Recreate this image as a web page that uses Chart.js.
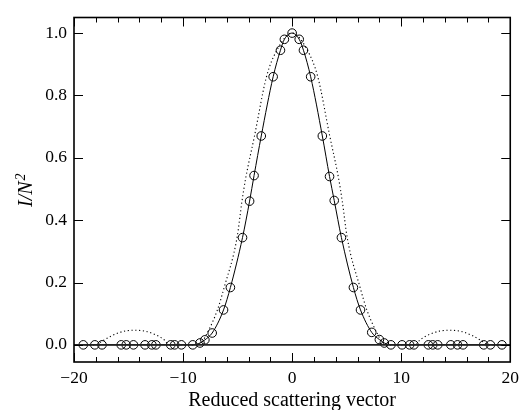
<!DOCTYPE html>
<html>
<head>
<meta charset="utf-8">
<script src="https://cdn.jsdelivr.net/npm/chart.js@4"></script>
<style>
    html, body { margin: 0; padding: 0; background: #fff; }
</style>
</head>
<body>
<canvas id="myChart" width="525" height="410"></canvas>
<script>
// circles (measured points)
const circleX = [-19.15, -18.09, -17.43, -15.67, -15.21, -14.55, -13.49, -12.86, -12.49, -11.13, -10.77, -10.15,
    -9.11, -8.45, -8.0, -7.33, -6.29, -5.66, -4.55, -3.9, -3.49, -2.83, -1.74, -1.07, -0.71, 0,
    0.65, 1.04, 1.7, 2.77, 3.43, 3.86, 4.52, 5.62, 6.27, 7.3, 8.0, 8.45, 9.06, 10.08, 10.77, 11.17,
    12.49, 12.89, 13.35, 14.55, 15.16, 15.67, 17.57, 18.18, 19.24];
const circleY = [0, 0, 0, 0, 0, 0, 0, 0, 0, 0, 0, 0,
    0, 0.006, 0.016, 0.038, 0.112, 0.184, 0.344, 0.461, 0.543, 0.67, 0.86, 0.945, 0.98, 1.0,
    0.98, 0.945, 0.86, 0.67, 0.54, 0.463, 0.344, 0.184, 0.112, 0.04, 0.017, 0.006, 0, 0, 0, 0,
    0, 0, 0, 0, 0, 0, 0, 0, 0];

// dotted curve
const dottedX = [-20, -18.0, -17.5, -16.5, -15.5, -14.5, -13.5, -12.5, -11.7, -11.3, -8.7, -8.3, -7.75, -6.85, -6.24,
    -5.05, -4.6, -4.28, -3.45, -2.35, -1.4, 0, 1.4, 2.35, 3.45, 4.28, 4.6, 5.05, 6.24, 6.85, 7.75, 8.3, 8.7,
    11.3, 11.7, 12.5, 13.5, 14.5, 15.5, 16.5, 17.5, 18.0, 20];
const dottedY = [0, 0, 0.01, 0.03, 0.043, 0.047, 0.044, 0.032, 0.015, 0, 0, 0.008, 0.04, 0.112, 0.183,
    0.344, 0.46, 0.53, 0.67, 0.86, 0.945, 1.0, 0.945, 0.86, 0.67, 0.53, 0.46, 0.344, 0.183, 0.112, 0.04, 0.008, 0,
    0, 0.015, 0.032, 0.044, 0.047, 0.043, 0.03, 0.01, 0, 0];

// base line along zero
const baseX = [-20, 20];
const baseY = [0, 0];

const xMajorTicks = [-20, -10, 0, 10, 20];
const xMinorTicks = [-18, -16, -14, -12, -8, -6, -4, -2, 2, 4, 6, 8, 12, 14, 16, 18];
const yMajorTicks = [0, 0.2, 0.4, 0.6, 0.8, 1.0];

function toPoints(xs, ys) {
    return xs.map((x, i) => ({ x: x, y: ys[i] }));
}

const serif = "'Liberation Serif', 'DejaVu Serif', serif";

// inward ticks on all four sides, the frame, and the y title with a real superscript
const frameTicks = {
    id: 'frameTicks',
    afterDatasetsDraw(chart) {
        const ctx = chart.ctx;
        const a = chart.chartArea;
        const xs = chart.scales.x;
        const ys = chart.scales.y;
        ctx.save();
        ctx.strokeStyle = '#000';
        ctx.lineWidth = 1;
        ctx.beginPath();
        xMajorTicks.concat(xMinorTicks).forEach(v => {
            const px = Math.round(xs.getPixelForValue(v)) + 0.5;
            const len = xMajorTicks.includes(v) ? 9 : 5;
            ctx.moveTo(px, a.bottom);
            ctx.lineTo(px, a.bottom - len);
            ctx.moveTo(px, a.top);
            ctx.lineTo(px, a.top + len);
        });
        yMajorTicks.forEach(v => {
            const py = Math.round(ys.getPixelForValue(v)) + 0.5;
            ctx.moveTo(a.left, py);
            ctx.lineTo(a.left + 9, py);
            ctx.moveTo(a.right, py);
            ctx.lineTo(a.right - 9, py);
        });
        ctx.stroke();
        ctx.lineWidth = 1.6;
        ctx.strokeRect(a.left, a.top, a.right - a.left, a.bottom - a.top);

        // y title: I/N^2
        ctx.translate(32, 207);
        ctx.rotate(-Math.PI / 2);
        ctx.fillStyle = '#000';
        ctx.textBaseline = 'alphabetic';
        ctx.textAlign = 'left';
        ctx.font = 'italic 20px ' + serif;
        ctx.fillText('I/N', 0, 0);
        const w = ctx.measureText('I/N').width;
        ctx.font = 'italic 14px ' + serif;
        ctx.fillText('2', w + 1, -7);
        ctx.restore();
    }
};

const ctx = document.getElementById('myChart').getContext('2d');

new Chart(ctx, {
    type: 'scatter',
    data: {
        datasets: [
            {
                label: 'base',
                data: toPoints(baseX, baseY),
                showLine: true,
                borderColor: '#222',
                borderWidth: 1.6,
                pointRadius: 0,
            },
            {
                label: 'dotted',
                data: toPoints(dottedX, dottedY),
                showLine: true,
                borderColor: '#000',
                borderWidth: 1.1,
                borderDash: [1.2, 2.6],
                pointRadius: 0,
                cubicInterpolationMode: 'monotone',
            },
            {
                label: 'measured',
                data: toPoints(circleX, circleY),
                showLine: true,
                borderColor: '#000',
                borderWidth: 1,
                pointRadius: 4.3,
                pointBorderWidth: 1,
                pointBorderColor: '#000',
                pointBackgroundColor: 'rgba(0,0,0,0)',
                cubicInterpolationMode: 'monotone',
            },
        ],
    },
    options: {
        responsive: false,
        animation: false,
        devicePixelRatio: 1,
        layout: { padding: { left: 0, right: 10, top: 14, bottom: 0 } },
        plugins: {
            legend: { display: false },
            tooltip: { enabled: false },
        },
        scales: {
            x: {
                type: 'linear',
                min: -20,
                max: 20,
                grid: { display: false, drawTicks: false },
                border: { display: false },
                afterBuildTicks: scale => { scale.ticks = xMajorTicks.map(v => ({ value: v })); },
                afterFit: scale => { scale.height = 48; },
                ticks: {
                    color: '#000',
                    padding: 6,
                    font: { family: serif, size: 17.5 },
                    callback: v => (v < 0 ? '\u2212' + Math.abs(v) : String(v)),
                },
                title: {
                    display: true,
                    text: 'Reduced scattering vector',
                    color: '#000',
                    font: { family: serif, size: 20 },
                    padding: { top: 0, bottom: -3 },
                },
            },
            y: {
                type: 'linear',
                min: -0.055,
                max: 1.05,
                grid: { display: false, drawTicks: false },
                border: { display: false },
                afterBuildTicks: scale => { scale.ticks = yMajorTicks.map(v => ({ value: v })); },
                afterFit: scale => { scale.width = 74; },
                ticks: {
                    color: '#000',
                    padding: 7,
                    font: { family: serif, size: 17.5 },
                    callback: v => v.toFixed(1),
                },
                title: { display: false },
            },
        },
    },
    plugins: [frameTicks],
});
</script>
</body>
</html>
